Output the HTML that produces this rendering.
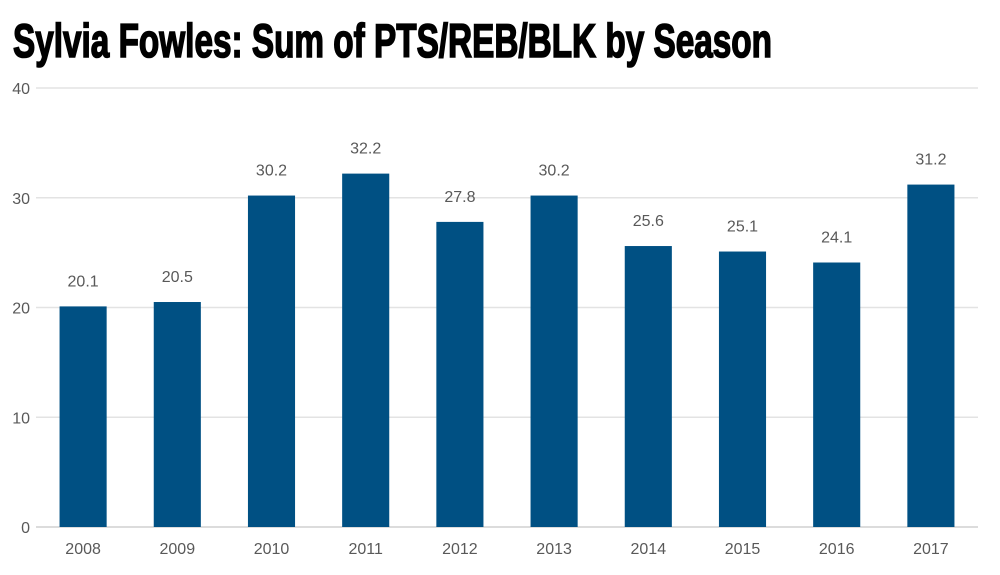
<!DOCTYPE html>
<html><head><meta charset="utf-8"><style>
html,body{margin:0;padding:0;background:#fff;width:1000px;height:575px;overflow:hidden}
text{font-family:"Liberation Sans",sans-serif}
</style></head><body>
<svg id="chart" width="1000" height="575" xmlns="http://www.w3.org/2000/svg">
<text x="13" y="57" font-size="47" font-weight="bold" fill="#000" stroke="#000" stroke-width="1.6" textLength="759" lengthAdjust="spacingAndGlyphs">Sylvia Fowles: Sum of PTS/REB/BLK by Season</text>
<g id="grid"></g>
<g id="yt"></g>
<g id="bars"></g>
<g id="xt"></g>
</svg>
<script>
const categories=["2008","2009","2010","2011","2012","2013","2014","2015","2016","2017"];
const values=[20.1,20.5,30.2,32.2,27.8,30.2,25.6,25.1,24.1,31.2];
const yTicks=[0,10,20,30,40];
const NS="http://www.w3.org/2000/svg";
const L=36,R=978,T=88,B=527,yMax=40;
const y=v=>B-(v/yMax)*(B-T);
const band=(R-L)/categories.length;
const x=i=>L+band*(i+0.5);
function mk(tag,attrs,parent,txt){const e=document.createElementNS(NS,tag);for(const k in attrs)e.setAttribute(k,attrs[k]);if(txt!==undefined)e.textContent=txt;parent.appendChild(e);return e;}
const g=document.getElementById('grid'),yt=document.getElementById('yt'),bars=document.getElementById('bars'),xt=document.getElementById('xt');
yTicks.forEach(t=>{
  const ln=mk('line',{x1:L,x2:R,y1:y(t),y2:y(t),stroke:t===0?'#d0d0d0':'#e3e3e3','stroke-width':1.5},g);
  
  
  const tx=mk('text',{x:30,y:y(t)+6,'text-anchor':'end','font-size':16,fill:'#595959'},yt,String(t));
  
  
});
const bw=band*0.5;
values.forEach((v,i)=>{
  const r=mk('rect',{x:x(i)-bw/2,y:y(v),width:bw,height:B-y(v),fill:'#005083'},bars);
  
  
  const lb=mk('text',{x:x(i),y:y(v)-20,'text-anchor':'middle','font-size':16,fill:'#595959'},bars,v.toFixed(1));
  
  
  const ct=mk('text',{x:x(i),y:554,'text-anchor':'middle','font-size':16,fill:'#595959'},xt,categories[i]);
  
  
});
</script>
</body></html>
